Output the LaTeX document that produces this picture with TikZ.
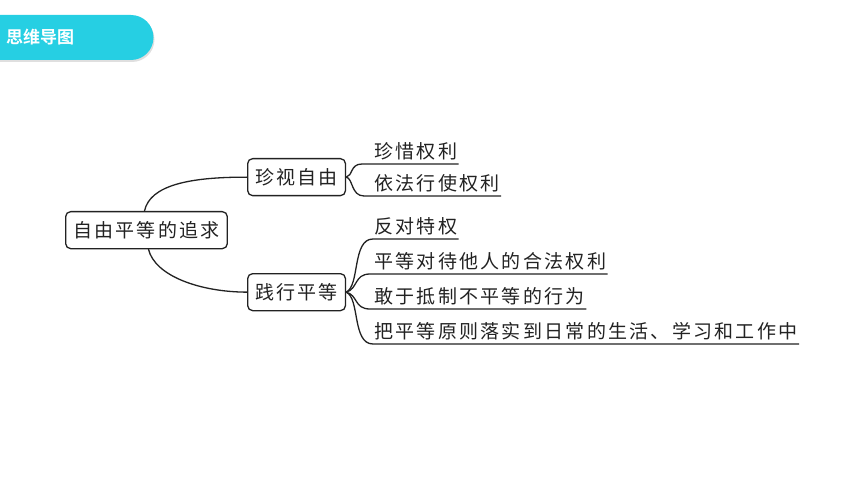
\documentclass[tikz,border=0pt]{standalone}
\usepackage{fontspec}
\newfontfamily\cjk[LetterSpace=12]{Noto Sans CJK SC}
\newfontfamily\cjkhead[BoldFont={Noto Sans CJK SC Bold}]{Noto Sans CJK SC}
\definecolor{tabcyan}{HTML}{26CFE3}
\definecolor{ink}{HTML}{222222}
\begin{document}
\begin{tikzpicture}[x=1pt,y=-1pt,
  box/.style={draw=ink,line width=1.3pt,rounded corners=5pt,inner xsep=7.5pt,inner ysep=0pt,minimum height=37pt,font=\cjk\fontsize{19}{19}\selectfont,text=ink},
  leaf/.style={inner sep=0pt,anchor=south west,font=\cjk\fontsize{19}{19}\selectfont,text=ink},
  con/.style={draw=ink,line width=1.3pt,line cap=round}]
\useasboundingbox (0,0) rectangle (860,484);
% header tab
\fill[gray!25] (-5,17) -- (132,17) arc[start angle=90,end angle=-90,radius=22.5pt] -- (-5,62) -- cycle;
\fill[tabcyan] (-5,15) -- (131,15) arc[start angle=90,end angle=-90,radius=22.5pt] -- (-5,60) -- cycle;
\node[anchor=west,inner sep=0pt,text=white,font=\cjkhead\bfseries\fontsize{17}{17}\selectfont] (head) at (6,37) {思维导图};
% main nodes
\node[box,anchor=north west] (root) at (65,211) {自由平等的追求};
\node[box,anchor=north west] (zs) at (247,158) {珍视自由};
\node[box,anchor=north west] (jx) at (247,273) {践行平等};
% leaves
\coordinate (u1) at (362,164);
\coordinate (u2) at (364,196);
\coordinate (u3) at (373,239);
\coordinate (u4) at (370,274);
\coordinate (u5) at (370,309);
\coordinate (u6) at (373,344);
\node[leaf] (l1) at (374,160) {珍惜权利};
\node[leaf] (l2) at (374,192) {依法行使权利};
\node[leaf] (l3) at (374,235) {反对特权};
\node[leaf] (l4) at (374,270) {平等对待他人的合法权利};
\node[leaf] (l5) at (374,305) {敢于抵制不平等的行为};
\node[leaf] (l6) at (374,340) {把平等原则落实到日常的生活、学习和工作中};
% root connectors
\draw[con] ([xshift=-2pt]root.north) .. controls (150,185) and (190,177) .. (zs.west);
\draw[con] ([xshift=2pt]root.south) .. controls (155,276) and (200,292) .. (jx.west);
% branch 1
\draw[con] (zs.east) .. controls (353,176) and (350,164) .. (u1) -- ([xshift=1pt]u1 -| l1.east);
\draw[con] (zs.east) .. controls (353,178) and (351,196) .. (u2) -- ([xshift=1pt]u2 -| l2.east);
% branch 2
\draw[con] (jx.east) .. controls (360,286) and (352,239) .. (u3) -- ([xshift=1pt]u3 -| l3.east);
\draw[con] (jx.east) .. controls (358,289) and (354,274) .. (u4) -- ([xshift=1pt]u4 -| l4.east);
\draw[con] (jx.east) .. controls (358,295) and (354,309) .. (u5) -- ([xshift=1pt]u5 -| l5.east);
\draw[con] (jx.east) .. controls (360,298) and (352,344) .. (u6) -- ([xshift=1pt]u6 -| l6.east);
\end{tikzpicture}
\end{document}
